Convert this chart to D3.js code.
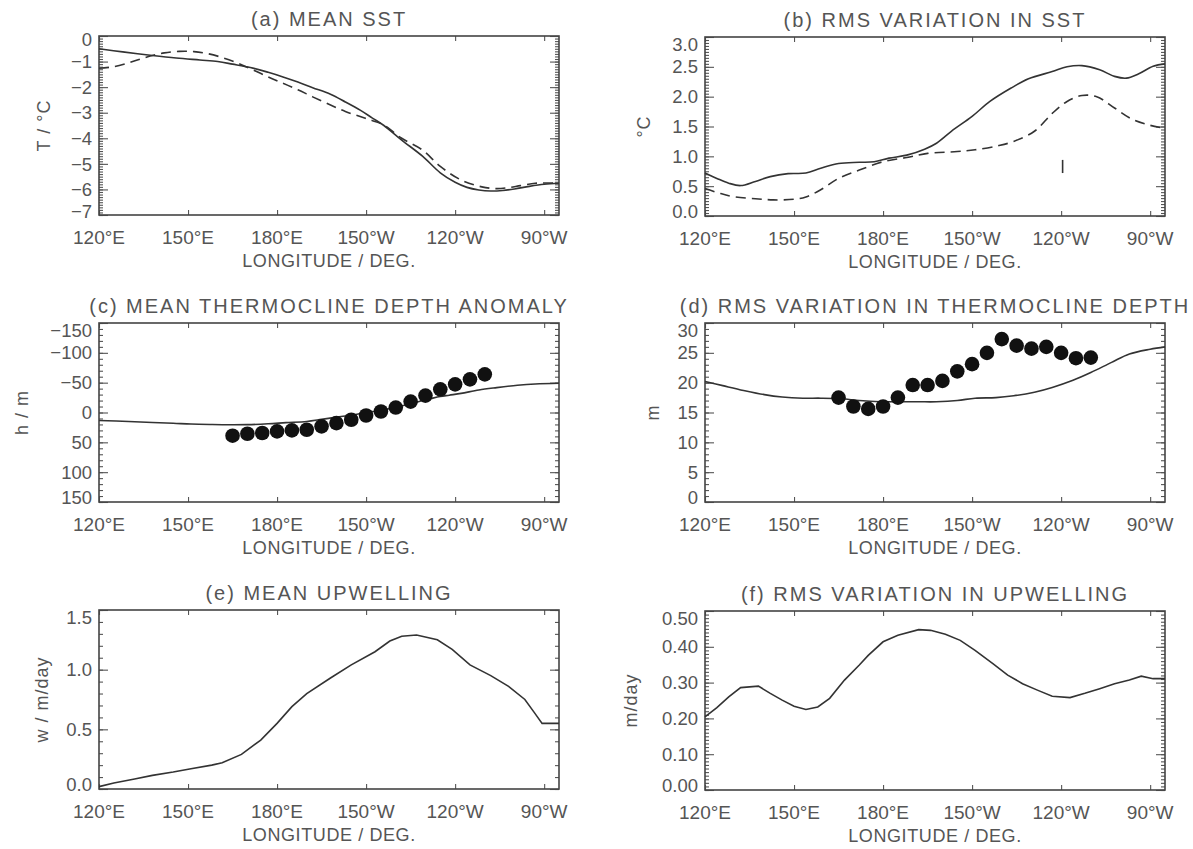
<!doctype html>
<html lang="en">
<head>
<meta charset="utf-8">
<title>mean and rms fields along the equator</title>
<script src="https://d3js.org/d3.v7.min.js"></script>
<style>
  body { margin: 0; background: #fff; }
  text { font-family: "Liberation Sans", Arial, sans-serif; fill: #555; }
  .frame { fill: none; stroke: #444; stroke-width: 1.6; }
  .curve { fill: none; stroke: #333; stroke-width: 1.6; }
  .tick line { stroke: #555; stroke-width: 1.1; }
  .dot { fill: #111; }
</style>
</head>
<body>
<div id="chart"></div>
<script>
// shared longitude axis, degrees east
var lonTicks = [120, 150, 180, 210, 240, 270];
var lonLabels = ["120°E", "150°E", "180°E", "150°W", "120°W", "90°W"];

// (a) mean SST
var aSolidLon = [120, 128, 138, 146, 154, 160, 165, 171, 177, 182, 187, 192, 198, 203, 208, 212, 216, 222, 229, 235, 240, 244, 248, 252, 256, 260, 265, 270, 275];
var aSolidT = [-0.5, -0.62, -0.76, -0.86, -0.94, -1.0, -1.1, -1.23, -1.42, -1.6, -1.8, -2.02, -2.28, -2.58, -2.9, -3.2, -3.5, -4.07, -4.7, -5.35, -5.72, -5.92, -6.02, -6.06, -6.04, -5.98, -5.88, -5.8, -5.76];
var aDashLon = [120, 125, 130, 134, 138, 142, 147, 152, 157, 162, 167, 172, 177, 182, 187, 192, 198, 203, 208, 212, 216, 222, 229, 235, 242, 249, 254, 258, 262, 267, 271, 275];
var aDashT = [-1.26, -1.2, -1.05, -0.9, -0.76, -0.66, -0.6, -0.61, -0.7, -0.86, -1.07, -1.33, -1.6, -1.85, -2.1, -2.38, -2.7, -2.95, -3.15, -3.3, -3.48, -4.0, -4.46, -5.1, -5.63, -5.9, -5.97, -5.93, -5.85, -5.76, -5.75, -5.74];
var aTicks = [0, -1, -2, -3, -4, -5, -6, -7];

// (b) rms SST
var bSolidLon = [120, 124, 128, 132, 137, 142, 148, 154, 159, 165, 172, 177, 182, 188, 194, 198, 203, 210, 216, 223, 229, 237, 242, 247, 253, 258, 262, 266, 271, 275];
var bSolidT = [0.72, 0.63, 0.55, 0.51, 0.58, 0.66, 0.71, 0.72, 0.8, 0.88, 0.9, 0.91, 0.97, 1.02, 1.12, 1.22, 1.42, 1.67, 1.92, 2.14, 2.3, 2.42, 2.5, 2.52, 2.45, 2.34, 2.31, 2.38, 2.51, 2.55];
var bDashLon = [120, 125, 130, 137, 143, 150, 154, 159, 165, 172, 180, 188, 195, 205, 211, 219, 224, 231, 237, 242, 247, 252, 258, 264, 270, 275];
var bDashT = [0.46, 0.38, 0.32, 0.29, 0.27, 0.28, 0.32, 0.44, 0.63, 0.77, 0.91, 0.98, 1.05, 1.08, 1.11, 1.18, 1.25, 1.42, 1.72, 1.92, 2.02, 2.0, 1.81, 1.62, 1.52, 1.47];
var bBarLon = [240.5, 240.5];
var bBarT = [0.72, 0.94];
var bTicks = [0, 0.5, 1.0, 1.5, 2.0, 2.5, 3.0];

// (c) mean thermocline depth anomaly
var cLineLon = [120, 130, 138, 145, 151, 158, 164, 170, 177, 183, 190, 195, 200, 205, 209, 213, 216, 219, 222, 226, 229, 232, 235, 238, 242, 248, 254, 261, 267, 275];
var cLineH = [13.3, 15, 16.7, 18, 19.4, 20.2, 20.6, 20.4, 18.9, 17, 15, 11.5, 7.8, 4.5, 1.1, -2, -4.4, -7.5, -11, -15.5, -20, -23.5, -26.7, -29, -32, -37.8, -41.7, -45.6, -47.8, -49];
var dotLon = [165, 170, 175, 180, 185, 190, 195, 200, 205, 210, 215, 220, 225, 230, 235, 240, 245, 250];
var cDotH = [38.9, 35.6, 34.4, 31.7, 30, 28.9, 23.3, 17.8, 12.2, 5, -1.7, -8.3, -18.3, -28.3, -38.9, -47.2, -55.6, -63.9];
var cTicks = [-150, -100, -50, 0, 50, 100, 150];

// (d) rms thermocline depth
var dLineLon = [120, 126, 133, 140, 146, 153, 159, 166, 172, 179, 185, 192, 198, 205, 211, 218, 224, 231, 237, 244, 250, 257, 263, 270, 275];
var dLineH = [20.2, 19.5, 18.7, 18, 17.6, 17.4, 17.4, 17.3, 17, 16.8, 16.8, 16.8, 16.8, 17, 17.4, 17.5, 17.8, 18.4, 19.2, 20.4, 21.7, 23.4, 24.8, 25.6, 26];
var dDotH = [17.5, 16.0, 15.6, 16.0, 17.5, 19.6, 19.6, 20.3, 21.9, 23.1, 25.0, 27.3, 26.2, 25.7, 26.0, 25.0, 24.1, 24.2];
var dTicks = [0, 5, 10, 15, 20, 25, 30];

// (e) mean upwelling
var eLon = [120, 125, 132, 138, 145, 151, 158, 161.5, 168, 174.5, 180, 185, 190, 198, 205, 213, 218, 222, 227, 234, 239, 245, 252, 258, 263.5, 266.7, 269.3, 275];
var eW = [0.02, 0.05, 0.084, 0.114, 0.142, 0.17, 0.2, 0.22, 0.29, 0.41, 0.55, 0.69, 0.8, 0.93, 1.04, 1.15, 1.24, 1.28, 1.29, 1.25, 1.17, 1.04, 0.95, 0.86, 0.75, 0.64, 0.55, 0.55];
var eTicks = [0, 0.5, 1.0, 1.5];

// (f) rms upwelling
var fLon = [120, 124, 128, 132, 138, 142, 146, 150, 154, 158, 162, 167, 172, 175, 180, 185, 192, 196, 201, 206, 211, 217, 222, 227, 232, 237, 243, 248, 253, 258, 263, 267, 271, 275];
var fW = [0.204, 0.23, 0.26, 0.286, 0.29, 0.27, 0.251, 0.234, 0.225, 0.232, 0.256, 0.307, 0.349, 0.376, 0.414, 0.432, 0.448, 0.446, 0.435, 0.418, 0.39, 0.353, 0.321, 0.297, 0.279, 0.262, 0.258, 0.27, 0.283, 0.297, 0.307, 0.318, 0.311, 0.311];
var fTicks = [0, 0.1, 0.2, 0.3, 0.4, 0.5];

function zip(xs, ys) { return xs.map(function (x, i) { return [x, ys[i]]; }); }
function minusFmt(v) { return v < 0 ? "\u2212" + Math.abs(v) : String(v); }

var panels = [
  { left: 99, top: 36, title: "(a) MEAN SST", ylab: "T / °C", ylabOff: 55, dom: [-7, 0], ticks: aTicks, fmt: minusFmt, minor: 0.1,
    lines: [{ pts: zip(aSolidLon, aSolidT) }, { pts: zip(aDashLon, aDashT), dash: "10,6" }], smooth: true },
  { left: 705, top: 37, title: "(b) RMS VARIATION IN SST", ylab: "°C", ylabOff: 61, dom: [0, 3], ticks: bTicks, fmt: d3.format(".1f"), minor: 0.05,
    lines: [{ pts: zip(bSolidLon, bSolidT) }, { pts: zip(bDashLon, bDashT), dash: "10,6" }, { pts: zip(bBarLon, bBarT) }], smooth: true },
  { left: 99, top: 323, title: "(c) MEAN THERMOCLINE DEPTH ANOMALY", ylab: "h / m", ylabOff: 77, dom: [150, -150], ticks: cTicks, fmt: minusFmt, minor: 10,
    lines: [{ pts: zip(cLineLon, cLineH) }], dots: zip(dotLon, cDotH), smooth: true },
  { left: 705, top: 323, title: "(d) RMS VARIATION IN THERMOCLINE DEPTH", ylab: "m", ylabOff: 52, dom: [0, 30], ticks: dTicks, fmt: String, minor: 1,
    lines: [{ pts: zip(dLineLon, dLineH) }], dots: zip(dotLon, dDotH), smooth: true },
  { left: 99, top: 610, title: "(e) MEAN UPWELLING", ylab: "w / m/day", ylabOff: 57, dom: [0, 1.5], ticks: eTicks, fmt: d3.format(".1f"), minor: 0.1,
    lines: [{ pts: zip(eLon, eW) }], smooth: false },
  { left: 705, top: 611, title: "(f) RMS VARIATION IN UPWELLING", ylab: "m/day", ylabOff: 74, dom: [0, 0.5], ticks: fTicks, fmt: d3.format(".2f"), minor: 0.01,
    lines: [{ pts: zip(fLon, fW) }], smooth: false }
];

var W = 460, H = 179;

var svg = d3.select("#chart").append("svg")
  .attr("width", 1193).attr("height", 849)
  .style("background", "#fff");

var x = d3.scaleLinear().domain([120, 275]).range([0, W]);

panels.forEach(function (p) {
  var g = svg.append("g").attr("transform", "translate(" + p.left + "," + p.top + ")");
  var y = d3.scaleLinear().domain(p.dom).range([H, 0]);

  var lo = Math.min(p.dom[0], p.dom[1]), hi = Math.max(p.dom[0], p.dom[1]);
  var minorTicks = d3.range(Math.round((hi - lo) / p.minor) + 1).map(function (i) { return +(lo + i * p.minor).toFixed(4); });

  // y ticks, inward on both sides
  g.append("g").call(d3.axisLeft(y).tickValues(minorTicks).tickSize(-4).tickFormat(""));
  g.append("g").call(d3.axisLeft(y).tickValues(p.ticks).tickSize(-9).tickFormat(""));
  g.append("g").attr("transform", "translate(" + W + ",0)").call(d3.axisRight(y).tickValues(minorTicks).tickSize(-4).tickFormat(""));
  g.append("g").attr("transform", "translate(" + W + ",0)").call(d3.axisRight(y).tickValues(p.ticks).tickSize(-9).tickFormat(""));
  // x ticks
  g.append("g").attr("transform", "translate(0," + H + ")").call(d3.axisBottom(x).tickValues(lonTicks).tickSize(-5).tickFormat(""));
  g.append("g").call(d3.axisTop(x).tickValues(lonTicks).tickSize(-5).tickFormat(""));
  g.selectAll(".domain").remove();

  g.append("rect").attr("class", "frame").attr("width", W).attr("height", H);

  // y tick labels, end ones pulled inside like the original
  var step = H / (p.ticks.length - 1);
  var nudge = Math.max(2, Math.min(7, step - 22));
  g.selectAll(".ylab").data(p.ticks).enter().append("text")
    .attr("x", -7)
    .attr("y", function (v) {
      var py = y(v);
      if (py < 1) py += nudge;
      if (py > H - 1) py -= Math.min(5, nudge);
      return py;
    })
    .attr("dy", "0.36em")
    .attr("text-anchor", "end")
    .style("font-size", "18.5px")
    .text(p.fmt);

  g.selectAll(".xlab").data(lonTicks).enter().append("text")
    .attr("x", function (v) { return x(v); })
    .attr("y", H + 29)
    .attr("text-anchor", "middle")
    .style("font-size", "19px")
    .text(function (v, i) { return lonLabels[i]; });

  g.append("text").attr("x", W / 2).attr("y", H + 52)
    .attr("text-anchor", "middle")
    .style("font-size", "18px").style("letter-spacing", "0.6px")
    .text("LONGITUDE / DEG.");

  g.append("text").attr("x", W / 2).attr("y", -10)
    .attr("text-anchor", "middle")
    .style("font-size", "20px").style("letter-spacing", "2px")
    .text(p.title);

  g.append("text")
    .attr("transform", "translate(" + (-p.ylabOff) + "," + (H / 2) + ") rotate(-90)")
    .attr("dy", "0.36em")
    .attr("text-anchor", "middle")
    .style("font-size", "18px").style("letter-spacing", "1px")
    .text(p.ylab);

  var line = d3.line()
    .x(function (d) { return x(d[0]); })
    .y(function (d) { return y(d[1]); })
    .curve(p.smooth ? d3.curveCatmullRom : d3.curveLinear);

  p.lines.forEach(function (l) {
    g.append("path").attr("class", "curve")
      .attr("d", line(l.pts))
      .style("stroke-dasharray", l.dash || null);
  });

  if (p.dots) {
    g.selectAll(".dot").data(p.dots).enter().append("circle")
      .attr("class", "dot")
      .attr("cx", function (d) { return x(d[0]); })
      .attr("cy", function (d) { return y(d[1]); })
      .attr("r", 7.3);
  }
});
</script>
</body>
</html>
